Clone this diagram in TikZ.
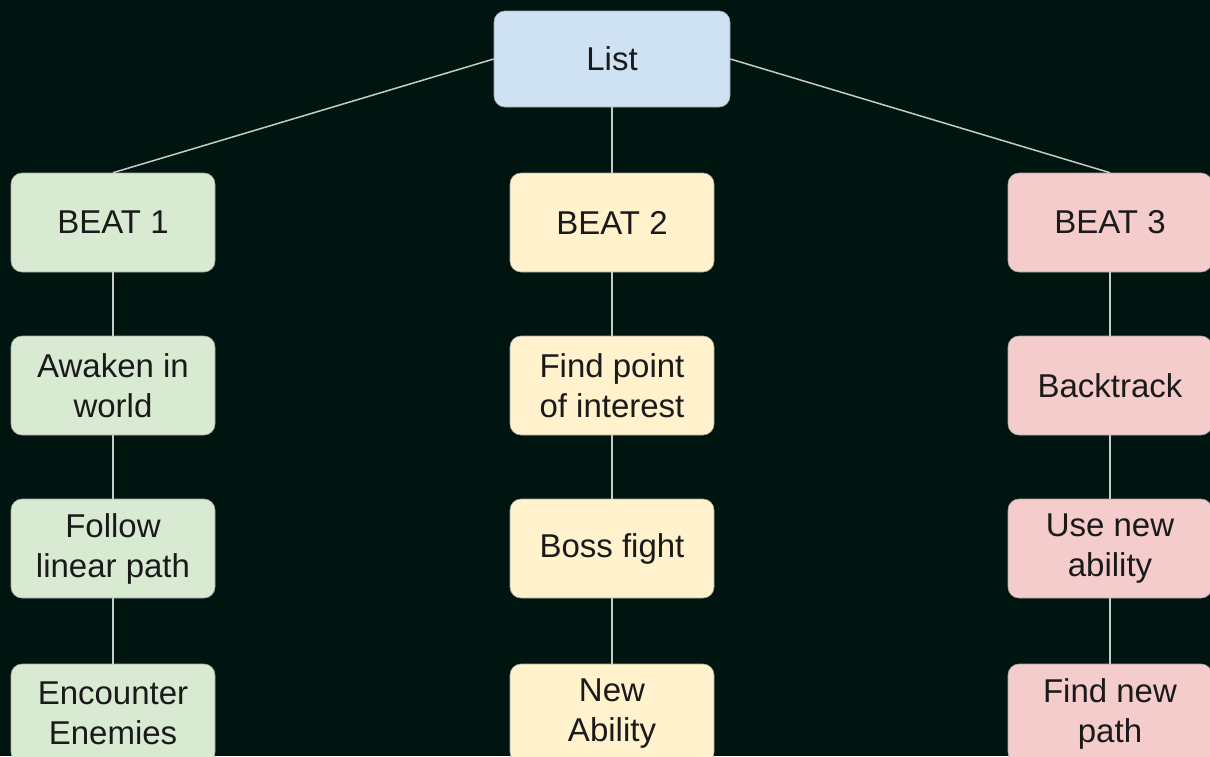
\documentclass[tikz,border=0pt]{standalone}
\usepackage{fontspec}
\setmainfont{Liberation Sans}
\definecolor{bgdark}{HTML}{011510}
\definecolor{listblue}{HTML}{CFE2F3}
\definecolor{beatgreen}{HTML}{D9EAD3}
\definecolor{beatyellow}{HTML}{FFF2CC}
\definecolor{beatpink}{HTML}{F4CCCC}
\definecolor{inkgray}{HTML}{1A1A1A}
\definecolor{wire}{HTML}{C8CCC8}
\tikzset{
  card/.style={rounded corners=11pt, minimum width=204pt, minimum height=99pt,
    inner sep=0pt, align=center, text=inkgray, font=\fontsize{33}{40}\selectfont,
    draw=black!35, line width=0.6pt},
  greencard/.style={card, fill=beatgreen},
  yellowcard/.style={card, fill=beatyellow},
  pinkcard/.style={card, fill=beatpink},
  link/.style={draw=wire, line width=1.5pt}
}
\begin{document}
\begin{tikzpicture}[x=1pt,y=-1pt]
  \fill[bgdark] (0,0) rectangle (1210,756);
  \useasboundingbox (0,0) rectangle (1210,756);
  \clip (0,0) rectangle (1210,756);

  % root
  \node[card, fill=listblue, minimum width=236pt, minimum height=96pt] (list) at (612,59) {List};

  % column 1
  \node[greencard] (b1)  at (113,222.5) {BEAT 1};
  \node[greencard] (b1a) at (113,385.5) {Awaken in\\world};
  \node[greencard] (b1b) at (113,548.5) {Follow\\linear path};
  \node[greencard] (b1c) at (113,713.5) {Encounter\\Enemies};

  % column 2
  \node[yellowcard] (b2)  at (612,222.5) {BEAT 2};
  \node[yellowcard] (b2a) at (612,385.5) {Find point\\of interest};
  \node[yellowcard] (b2b) at (612,548.5) {Boss fight};
  \node[yellowcard] (b2c) at (612,713.5) {New\\Ability};

  % column 3
  \node[pinkcard] (b3)  at (1110,222.5) {BEAT 3};
  \node[pinkcard] (b3a) at (1110,385.5) {Backtrack};
  \node[pinkcard] (b3b) at (1110,548.5) {Use new\\ability};
  \node[pinkcard] (b3c) at (1110,713.5) {Find new\\path};

  % connectors
  \draw[link] (list.west) -- (b1.north);
  \draw[link] (list.south) -- (b2.north);
  \draw[link] (list.east) -- (b3.north);
  \foreach \c in {1,2,3}{
    \draw[link] (b\c.south) -- (b\c a.north);
    \draw[link] (b\c a.south) -- (b\c b.north);
    \draw[link] (b\c b.south) -- (b\c c.north);
  }
\end{tikzpicture}
\end{document}
